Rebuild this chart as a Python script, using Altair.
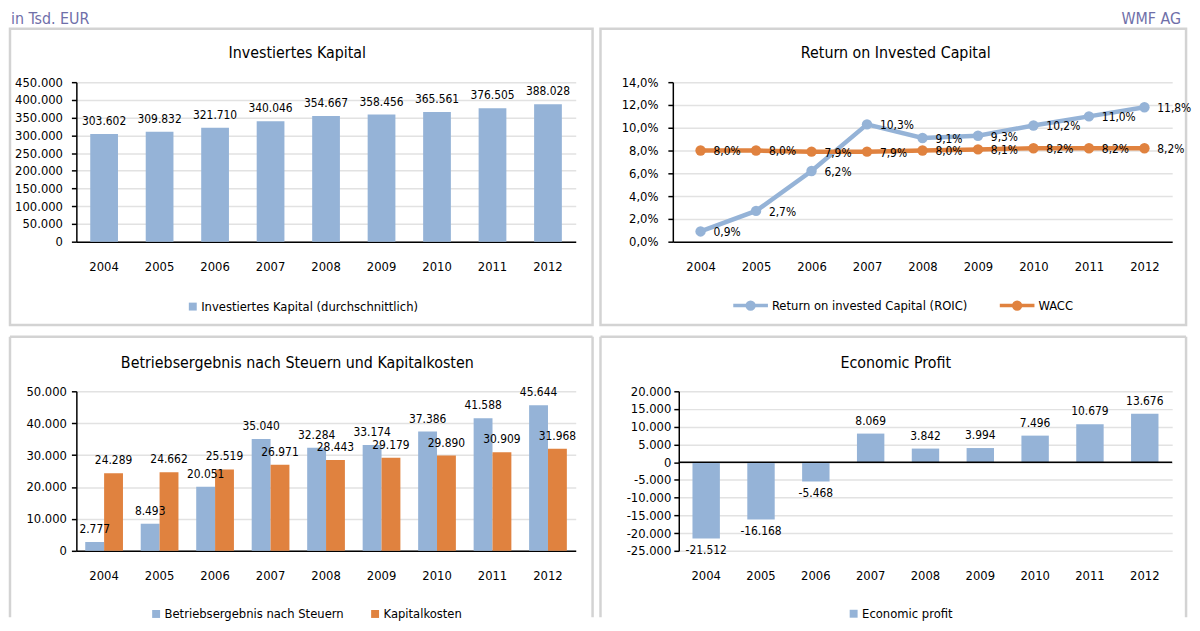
import altair as alt
import pandas as pd

# ---------------- data ----------------
years = ["2004", "2005", "2006", "2007", "2008", "2009", "2010", "2011", "2012"]
invested = [303602, 309832, 321710, 340046, 354667, 358456, 365561, 376505, 388028]
roic = [0.009, 0.027, 0.062, 0.103, 0.091, 0.093, 0.102, 0.110, 0.118]
wacc = [0.080, 0.080, 0.079, 0.079, 0.080, 0.081, 0.082, 0.082, 0.082]
nopat = [2777, 8493, 20051, 35040, 32284, 33174, 37386, 41588, 45644]
capital_cost = [24289, 24662, 25519, 26971, 28443, 29179, 29890, 30909, 31968]
economic_profit = [-21512, -16168, -5468, 8069, 3842, 3994, 7496, 10679, 13676]

s_invested = "Investiertes Kapital (durchschnittlich)"
s_roic = "Return on invested Capital (ROIC)"
s_wacc = "WACC"
s_nopat = "Betriebsergebnis nach Steuern"
s_cost = "Kapitalkosten"
s_ep = "Economic profit"

titles = ["Investiertes Kapital", "Return on Invested Capital",
          "Betriebsergebnis nach Steuern und Kapitalkosten", "Economic Profit"]
header_left = "in Tsd. EUR"
header_right = "WMF AG"

ticks_tl = [0, 50000, 100000, 150000, 200000, 250000, 300000, 350000, 400000, 450000]
ticks_tr = [0.0, 0.02, 0.04, 0.06, 0.08, 0.10, 0.12, 0.14]
ticks_bl = [0, 10000, 20000, 30000, 40000, 50000]
ticks_br = [-25000, -20000, -15000, -10000, -5000, 0, 5000, 10000, 15000, 20000]

# ---------------- style ----------------
FONT = "DejaVu Sans Condensed, DejaVu Sans, sans-serif"
BLUE = "#95B3D7"
ORANGE = "#E0823F"
BORDER = "#d3d3d3"
HEADER = "#6F6FA9"
ONE = pd.DataFrame({"k": [0]})


def box(x1, x2, y1, y2):
    return alt.Chart(ONE).mark_rect(fill="transparent", stroke=BORDER, strokeWidth=2.5).encode(
        x=alt.value(x1), x2=alt.value(x2), y=alt.value(y1), y2=alt.value(y2))


def open_box(x1, x2, y1, y2):
    top = alt.Chart(ONE).mark_rule(color=BORDER, strokeWidth=2.5).encode(
        x=alt.value(x1), x2=alt.value(x2), y=alt.value(y1))
    left = alt.Chart(ONE).mark_rule(color=BORDER, strokeWidth=2.5).encode(
        x=alt.value(x1), y=alt.value(y1), y2=alt.value(y2))
    right = alt.Chart(ONE).mark_rule(color=BORDER, strokeWidth=2.5).encode(
        x=alt.value(x2), y=alt.value(y1), y2=alt.value(y2))
    return [top, left, right]


def label(text, x, y, size, align="center", baseline="middle", color="black"):
    return alt.Chart(ONE).mark_text(text=text, font=FONT, fontSize=size, align=align,
                                    baseline=baseline, color=color).encode(
        x=alt.value(x), y=alt.value(y))


def xaxis(domain=True):
    return alt.Axis(title=None, labelAngle=0, ticks=False, grid=False, domain=domain,
                    labelPadding=19)


def yaxis(values, fmt, pad):
    return alt.Axis(title=None, values=values, tickCount=50, format=fmt, grid=True, ticks=True,
                    tickSize=5, labelPadding=pad, domain=True, labelOverlap=False)


def legend(x, y, **kw):
    return alt.Legend(title=None, orient="none", legendX=x, legendY=y,
                      direction="horizontal", labelLimit=600, **kw)


W_L, W_TR, W_BR, H = 504, 504, 498, 161

# ---------------- top left ----------------
df_tl = pd.DataFrame({"Jahr": years, "Wert": invested, "Serie": [s_invested] * 9})
x_tl = alt.X("Jahr:N", sort=years, scale=alt.Scale(paddingInner=0.5, paddingOuter=0.25), axis=xaxis())
y_tl = alt.Y("Wert:Q", scale=alt.Scale(domain=[0, 450000], nice=False),
             axis=yaxis(ticks_tl, ",.0f", 9))
tl_bars = alt.Chart(df_tl).mark_bar().encode(
    x=x_tl, y=y_tl,
    color=alt.Color("Serie:N", scale=alt.Scale(domain=[s_invested], range=[BLUE]),
                    legend=legend(111, 220)))
tl_text = alt.Chart(df_tl).mark_text(baseline="bottom", dy=-6, fontSize=12, color="black").encode(
    x=alt.X("Jahr:N", sort=years), y="Wert:Q", text=alt.Text("Wert:Q", format=",.0f"))
tl = alt.layer(
    box(-67, 521, -54, 245),
    label(header_left, -66, -72, 16, align="left", baseline="top", color=HEADER),
    label(titles[0], 223, -29, 16),
    tl_bars, tl_text,
).properties(width=W_L, height=H)

# ---------------- top right ----------------
df_tr = pd.DataFrame({"Jahr": years * 2, "Wert": roic + wacc,
                      "Serie": [s_roic] * 9 + [s_wacc] * 9})
x_tr = alt.X("Jahr:N", sort=years, scale=alt.Scale(type="point", padding=0.5), axis=xaxis())
y_tr = alt.Y("Wert:Q", scale=alt.Scale(domain=[0, 0.14], nice=False),
             axis=yaxis(ticks_tr, ".1%", 10))
PATH = "M-1,0L1,0M-0.2,0A0.2,0.2,0,1,1,0.2,0A0.2,0.2,0,1,1,-0.2,0Z"
tr_lines = alt.Chart(df_tr).mark_line(strokeWidth=4.5, point=alt.OverlayMarkDef(filled=True, size=110)).encode(
    x=x_tr, y=y_tr,
    color=alt.Color("Serie:N", sort=[s_roic, s_wacc],
                    scale=alt.Scale(domain=[s_roic, s_wacc], range=[BLUE, ORANGE]),
                    legend=legend(59, 206, symbolType=PATH, symbolSize=1225, symbolStrokeWidth=3.5,
                                  columnPadding=25)))
tr_text = alt.Chart(df_tr).mark_text(align="left", dx=13, dy=1, fontSize=12, color="black").encode(
    x=alt.X("Jahr:N", sort=years), y="Wert:Q", text=alt.Text("Wert:Q", format=".1%"))
tr = alt.layer(
    box(-73, 518, -54, 245),
    label(header_right, 513, -72, 16, align="right", baseline="top", color=HEADER),
    label(titles[1], 225, -29, 16),
    tr_lines, tr_text,
).properties(width=W_TR, height=H)

# ---------------- bottom left ----------------
df_bl = pd.DataFrame({"Jahr": years * 2, "Wert": nopat + capital_cost,
                      "Serie": [s_nopat] * 9 + [s_cost] * 9})
x_bl = alt.X("Jahr:N", sort=years, scale=alt.Scale(paddingInner=0.32, paddingOuter=0.16), axis=xaxis())
xo_bl = alt.XOffset("Serie:N", sort=[s_nopat, s_cost],
                    scale=alt.Scale(domain=[s_nopat, s_cost], paddingInner=0, paddingOuter=0))
y_bl = alt.Y("Wert:Q", scale=alt.Scale(domain=[0, 50000], nice=False),
             axis=yaxis(ticks_bl, ",.0f", 5))
bl_bars = alt.Chart(df_bl).mark_bar().encode(
    x=x_bl, xOffset=xo_bl, y=y_bl,
    color=alt.Color("Serie:N", sort=[s_nopat, s_cost],
                    scale=alt.Scale(domain=[s_nopat, s_cost], range=[BLUE, ORANGE]),
                    legend=legend(74, 218, columnPadding=25)))
bl_text = alt.Chart(df_bl).mark_text(baseline="bottom", dy=-6, fontSize=12, color="black").encode(
    x=alt.X("Jahr:N", sort=years), xOffset=alt.XOffset("Serie:N", sort=[s_nopat, s_cost]),
    y="Wert:Q", text=alt.Text("Wert:Q", format=",.0f"))
bl = alt.layer(
    *open_box(-67, 521, -55, 228),
    label(titles[2], 223, -29, 16),
    bl_bars, bl_text,
).properties(width=W_L, height=H)

# ---------------- bottom right ----------------
df_br = pd.DataFrame({"Jahr": years, "Wert": economic_profit, "Serie": [s_ep] * 9})
x_br = alt.X("Jahr:N", sort=years, scale=alt.Scale(paddingInner=0.5, paddingOuter=0.25),
             axis=xaxis(domain=False))
y_br = alt.Y("Wert:Q", scale=alt.Scale(domain=[-25000, 20000], nice=False),
             axis=yaxis(ticks_br, ",.0f", 3))
br_bars = alt.Chart(df_br).mark_bar().encode(
    x=x_br, y=y_br,
    color=alt.Color("Serie:N", scale=alt.Scale(domain=[s_ep], range=[BLUE]),
                    legend=legend(170, 218)))
br_zero = alt.Chart(ONE).mark_rule(color="black", strokeWidth=1.5).encode(y=alt.datum(0))
br_pos = alt.Chart(df_br).transform_filter("datum.Wert >= 0").mark_text(
    baseline="bottom", dy=-6, fontSize=12, color="black").encode(
    x=alt.X("Jahr:N", sort=years), y="Wert:Q", text=alt.Text("Wert:Q", format=",.0f"))
br_neg = alt.Chart(df_br).transform_filter("datum.Wert < 0").mark_text(
    baseline="top", dy=7, fontSize=12, color="black").encode(
    x=alt.X("Jahr:N", sort=years), y="Wert:Q", text=alt.Text("Wert:Q", format=",.0f"))
br = alt.layer(
    *open_box(-79, 512, -55, 228),
    label(titles[3], 219, -29, 16),
    br_bars, br_zero, br_pos, br_neg,
).properties(width=W_BR, height=H)

row1 = alt.hconcat(tl, tr, spacing=4).resolve_scale(color="independent")
row2 = alt.hconcat(bl, br, spacing=4).resolve_scale(color="independent")

chart = alt.vconcat(row1, row2, spacing=8).resolve_scale(color="independent").properties(
    padding=0, background="white"
).configure(
    font=FONT,
    locale=alt.Locale(number=alt.NumberLocale(decimal=",", thousands=".", grouping=[3],
                                              currency=["", " €"], minus="-")),
).configure_view(stroke=None).configure_axis(
    labelFont=FONT, labelFontSize=13, labelColor="black", domainColor="black", domainWidth=1.5,
    tickColor="black", tickWidth=1.5, gridColor="#e2e2e2", gridWidth=1.5,
).configure_legend(
    labelFont=FONT, labelFontSize=13, labelColor="black", padding=0, symbolType="square",
    symbolSize=64, labelOffset=2,
)

chart.save("out.html", embed_options={"renderer": "svg", "actions": False})
